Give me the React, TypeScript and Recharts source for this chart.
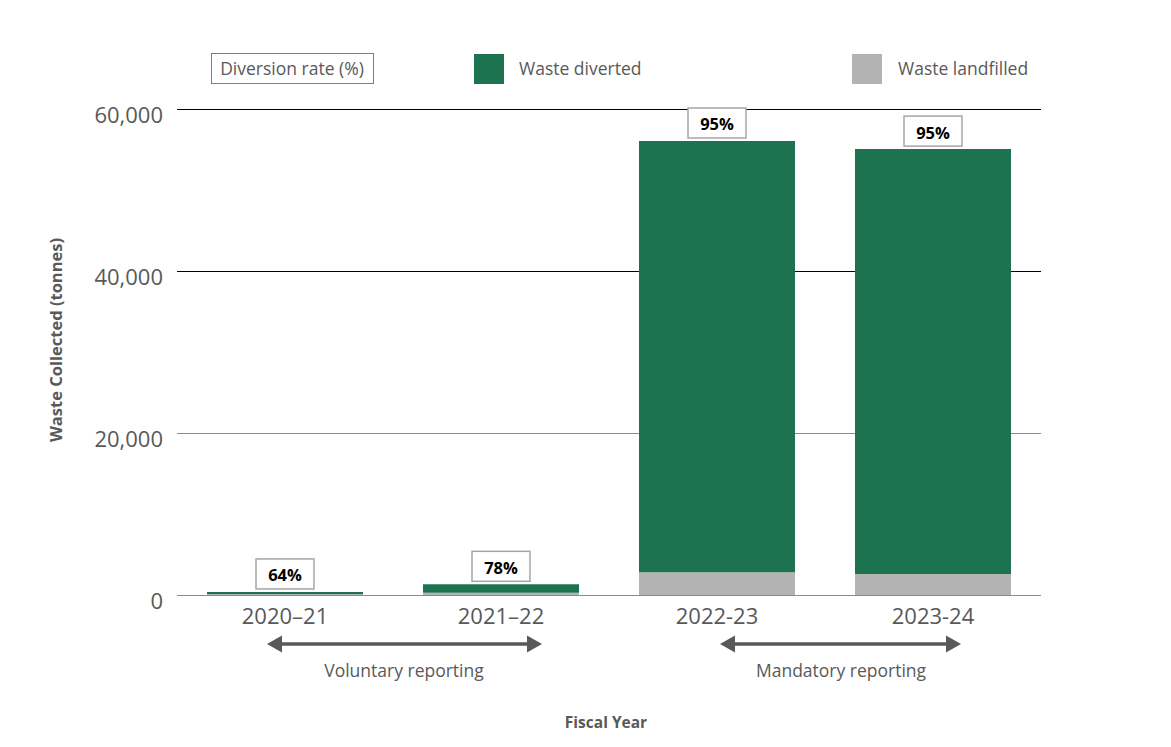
import React from 'react';
import { BarChart, Bar, XAxis, YAxis, CartesianGrid, LabelList } from 'recharts';

const fiscalYears = ['2020–21', '2021–22', '2022-23', '2023-24'];
const wasteDiverted = [240, 1030, 53250, 52450];
const wasteLandfilled = [135, 290, 2800, 2600];
const diversionRates = [64, 78, 95, 95];
const yTicks = [0, 20000, 40000, 60000];

const data = fiscalYears.map((year, i) => ({
  year,
  diverted: wasteDiverted[i],
  landfilled: wasteLandfilled[i],
  rate: diversionRates[i],
}));

const FONT = '"Open Sans", sans-serif';
const GREEN = '#1d7350';
const GREY = '#b3b3b3';
const TEXT = '#595959';

const YTick = (props: any) => {
  const { x, y, payload } = props;
  return (
    <text x={x} y={y + 5} textAnchor="end" dominantBaseline="central" fontFamily={FONT} fontSize={22} fill={TEXT}>
      {Number(payload.value).toLocaleString('en-US')}
    </text>
  );
};

const XTick = (props: any) => {
  const { x, y, payload } = props;
  return (
    <text x={x} y={y + 21} textAnchor="middle" fontFamily={FONT} fontSize={22} fill={TEXT}>
      {payload.value}
    </text>
  );
};

const RateLabel = (props: any) => {
  const { x, y, width, value } = props;
  const cx = x + width / 2;
  const bw = 58;
  const bh = 30;
  const top = y - 3 - bh;
  return (
    <g>
      <rect x={cx - bw / 2} y={top} width={bw} height={bh} fill="#fff" stroke="#a6a6a6" strokeWidth={1.5} />
      <text x={cx} y={top + bh / 2 + 1} textAnchor="middle" dominantBaseline="central" fontFamily={FONT} fontWeight={700} fontSize={16.5} fill="#000">
        {value}%
      </text>
    </g>
  );
};

const gridLine = (p: any) => (
  <line
    key={p.key}
    x1={p.x1}
    x2={p.x2}
    y1={p.y1}
    y2={p.y2}
    stroke={p.index >= 2 ? '#000' : '#8c8c8c'}
    strokeWidth={1}
    shapeRendering="crispEdges"
  />
);

const Arrow = ({ x1, x2, y }: { x1: number; x2: number; y: number }) => (
  <g fill="#595959" stroke="none">
    <line x1={x1 + 12} x2={x2 - 12} y1={y} y2={y} stroke="#595959" strokeWidth={3.5} />
    <polygon points={`${x1},${y} ${x1 + 15},${y - 8.5} ${x1 + 15},${y + 8.5}`} />
    <polygon points={`${x2},${y} ${x2 - 15},${y - 8.5} ${x2 - 15},${y + 8.5}`} />
  </g>
);

export default function App() {
  return (
    <div style={{ position: 'absolute', left: 0, top: 0, width: 1171, height: 747, background: '#fff' }}>
      <BarChart
        width={1171}
        height={747}
        data={data}
        margin={{ top: 109, right: 130, bottom: 122, left: 97 }}
        barCategoryGap={30}
      >
        <CartesianGrid vertical={false} horizontal={gridLine} />
        <XAxis
          dataKey="year"
          height={30}
          tickLine={false}
          axisLine={{ stroke: '#8c8c8c', strokeWidth: 1, shapeRendering: 'crispEdges' }}
          tickMargin={2}
          tick={<XTick />}
          interval={0}
        />
        <YAxis
          width={80}
          domain={[0, 60000]}
          ticks={yTicks}
          axisLine={false}
          tickLine={false}
          tickMargin={8}
          tick={<YTick />}
        />
        <Bar dataKey="landfilled" stackId="a" fill={GREY} isAnimationActive={false} />
        <Bar dataKey="diverted" stackId="a" fill={GREEN} isAnimationActive={false}>
          <LabelList dataKey="rate" content={<RateLabel />} />
        </Bar>
      </BarChart>
      <svg
        width={1171}
        height={747}
        style={{ position: 'absolute', left: 0, top: 0, pointerEvents: 'none' }}
      >
        {/* Legend */}
        <rect x={211.5} y={53.5} width={162} height={30} fill="#fff" stroke="#7f7f7f" strokeWidth={1} />
        <text x={292} y={75} textAnchor="middle" fontFamily={FONT} fontSize={17.5} fill={TEXT}>
          Diversion rate (%)
        </text>
        <rect x={474} y={54} width={30} height={30} fill={GREEN} />
        <text x={519} y={75} fontFamily={FONT} fontSize={17.5} fill={TEXT}>
          Waste diverted
        </text>
        <rect x={852} y={54} width={30} height={30} fill={GREY} />
        <text x={898} y={75} fontFamily={FONT} fontSize={17.5} fill={TEXT}>
          Waste landfilled
        </text>

        {/* Y axis title */}
        <text
          x={55}
          y={340}
          transform="rotate(-90 55 340)"
          textAnchor="middle"
          dominantBaseline="central"
          fontFamily={FONT}
          fontWeight={700}
          fontSize={16.5}
          fill={TEXT}
        >
          Waste Collected (tonnes)
        </text>

        {/* Reporting arrows */}
        <Arrow x1={267} x2={542} y={644} />
        <text x={404} y={677} textAnchor="middle" fontFamily={FONT} fontSize={17.5} fill={TEXT}>
          Voluntary reporting
        </text>
        <Arrow x1={720} x2={961} y={644} />
        <text x={841} y={677} textAnchor="middle" fontFamily={FONT} fontSize={17.5} fill={TEXT}>
          Mandatory reporting
        </text>

        {/* X axis title */}
        <text x={606} y={728} textAnchor="middle" fontFamily={FONT} fontWeight={700} fontSize={15.5} fill={TEXT}>
          Fiscal Year
        </text>
      </svg>
    </div>
  );
}
